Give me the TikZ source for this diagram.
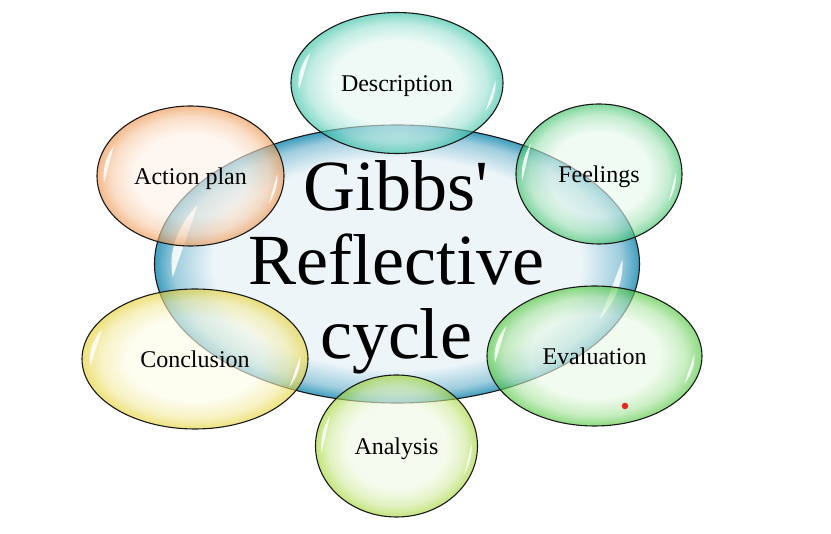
\documentclass[tikz,border=0pt]{standalone}
\usepackage{fontspec}
\setmainfont{Liberation Serif}
\newfontfamily\titlefont{Liberation Serif}
\usetikzlibrary{shapes.geometric,calc}
\definecolor{gibbsedge}{HTML}{3F9DBE}
\definecolor{gibbscore}{HTML}{EDF5F9}
\definecolor{descedge}{HTML}{2FC0A2}
\definecolor{desccore}{HTML}{E6F8F3}
\definecolor{feeledge}{HTML}{36C063}
\definecolor{feelcore}{HTML}{E8F9EC}
\definecolor{evaledge}{HTML}{48C534}
\definecolor{evalcore}{HTML}{EBFAE7}
\definecolor{analedge}{HTML}{A0D42E}
\definecolor{analcore}{HTML}{F2FAE6}
\definecolor{concledge}{HTML}{E6D02E}
\definecolor{conclcore}{HTML}{FCFCE8}
\definecolor{actedge}{HTML}{EE9248}
\definecolor{actcore}{HTML}{FEF2E8}
\definecolor{speckred}{HTML}{E32626}
% soft rim glow, light inside
\newcommand{\bubbleshading}[3]{%
  \pgfdeclareradialshading{#1}{\pgfpointorigin}{color(0bp)=(#3); color(15bp)=(#3);
    color(21bp)=(#3!60!#2); color(25bp)=(#2); color(50bp)=(#2)}}
\pgfdeclareradialshading{gibbsshade}{\pgfpointorigin}{color(0bp)=(gibbscore);
  color(19bp)=(gibbscore); color(23bp)=(gibbscore!55!gibbsedge); color(25bp)=(gibbsedge);
  color(50bp)=(gibbsedge)}
\bubbleshading{descshade}{descedge}{desccore}
\bubbleshading{feelshade}{feeledge}{feelcore}
\bubbleshading{evalshade}{evaledge}{evalcore}
\bubbleshading{analshade}{analedge}{analcore}
\bubbleshading{conclshade}{concledge}{conclcore}
\bubbleshading{actshade}{actedge}{actcore}
\tikzset{
    every picture/.style={line cap=round,line join=round},
    % white crescents on the left and right rim
    glare/.style={path picture={
      \fill[white,opacity=.85]
        let \p1=(path picture bounding box.north east),
            \p2=(path picture bounding box.center) in
        (\p2) ++(152:{0.93*(\x1-\x2)} and {0.91*(\y1-\y2)})
          arc[start angle=152,end angle=186,x radius={0.93*(\x1-\x2)},y radius={0.91*(\y1-\y2)}] -- cycle
        (\p2) ++(334:{0.93*(\x1-\x2)} and {0.91*(\y1-\y2)})
          arc[start angle=334,end angle=362,x radius={0.93*(\x1-\x2)},y radius={0.91*(\y1-\y2)}] -- cycle;
    }},
    bubble/.style={ellipse,shade,draw=black!90,line width=1.1pt,inner sep=0pt,
      minimum height=140pt,fill opacity=0.62,draw opacity=1,text opacity=1,
      text=black,font=\fontsize{24}{28}\selectfont,text height=17pt,text depth=0pt,glare},
    title/.style={align=center,text=black,
      font=\titlefont\fontsize{72}{74}\selectfont},
    speck/.style={circle,fill=speckred,inner sep=0pt,minimum size=6.5pt}
}
\begin{document}
\begin{tikzpicture}[x=1pt,y=-1pt]
  \useasboundingbox[fill=white] (0,0) rectangle (831,534);
  \node[bubble,shading=gibbsshade,fill opacity=1,minimum width=485pt,minimum height=278pt] (gibbs) at (397,264) {};
  \node[bubble,shading=descshade,minimum width=212pt,minimum height=141pt] (desc) at (397,83) {Description};
  \node[bubble,shading=feelshade,minimum width=166pt] (feel) at (599,174) {Feelings};
  \node[bubble,shading=evalshade,minimum width=215pt] (eval) at (594.5,356) {Evaluation};
  \node[bubble,shading=analshade,minimum width=162pt,minimum height=142pt] (anal) at (396.5,446) {Analysis};
  \node[bubble,shading=conclshade,minimum width=226pt] (concl) at (195,359) {Conclusion};
  \node[bubble,shading=actshade,minimum width=187pt] (act) at (190.5,176) {Action plan};
  \node[title] (gibbstext) at (396,267.5) {Gibbs'\\Reflective\\cycle};
  \node[speck] (dot) at (625,406) {};
\end{tikzpicture}
\end{document}
